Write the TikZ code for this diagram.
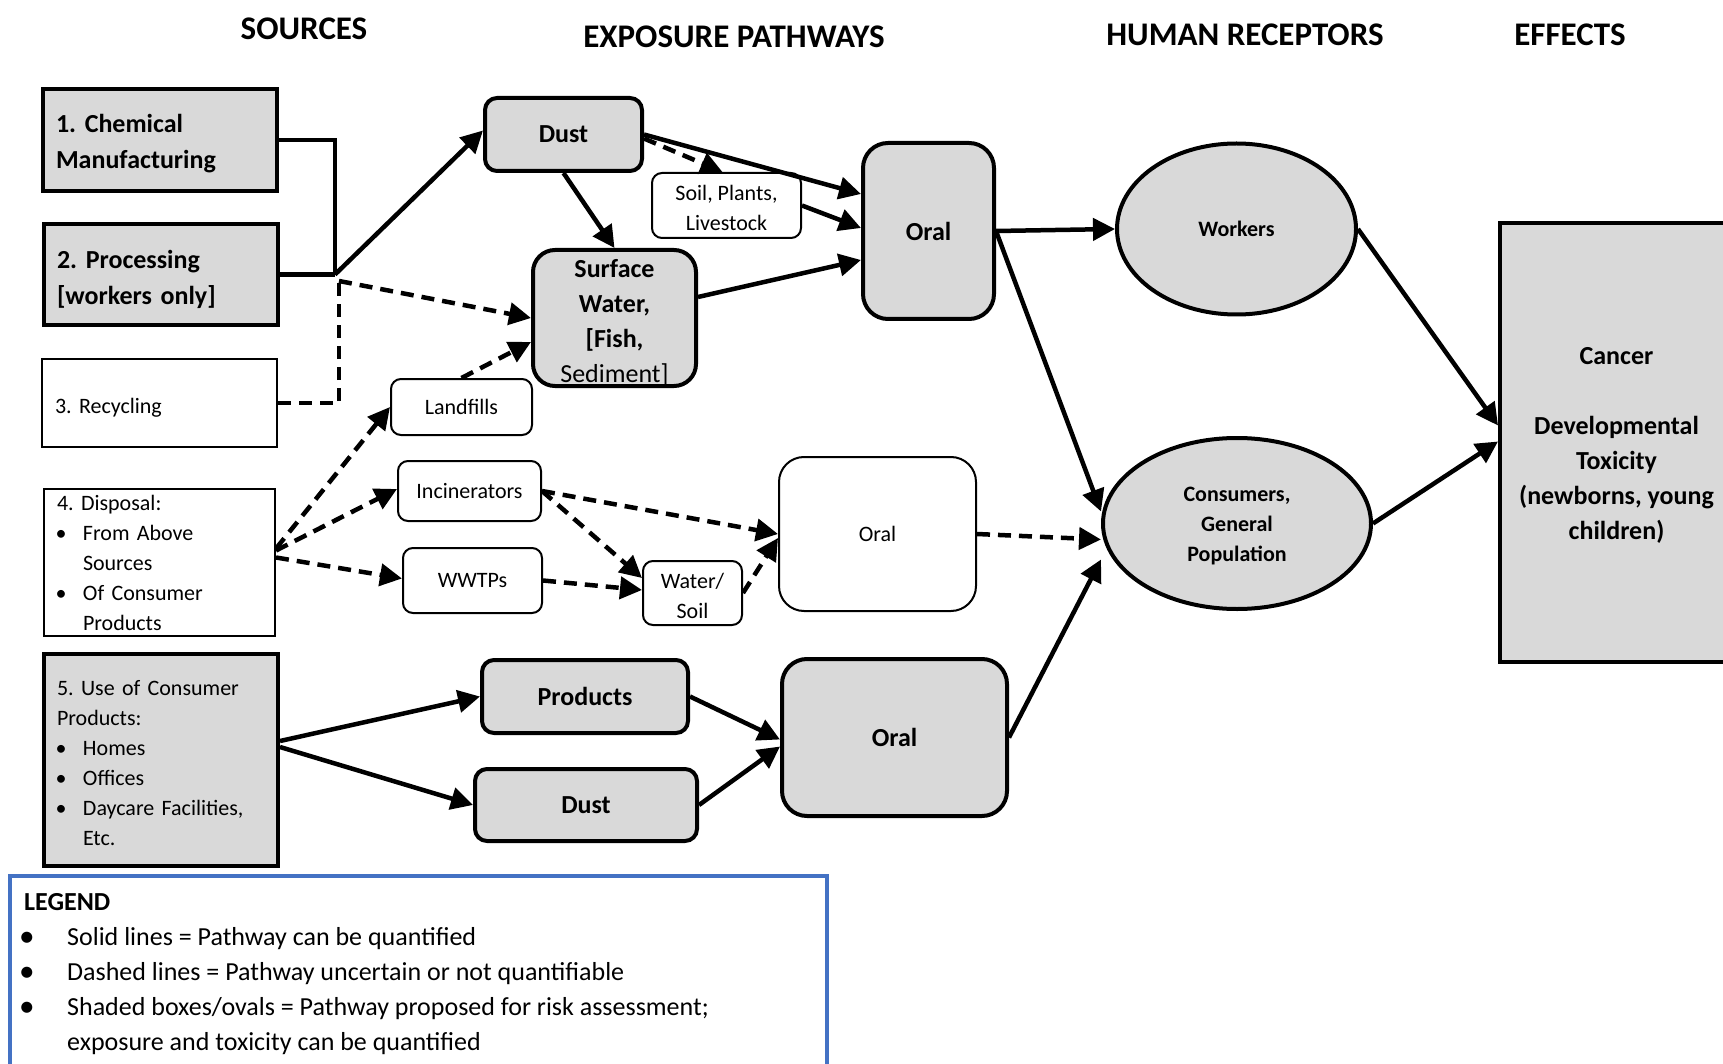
\documentclass[tikz,border=0pt]{standalone}
\usepackage{fontspec}
\setmainfont{Carlito}
\usetikzlibrary{arrows.meta,shapes.geometric}
\definecolor{shade}{HTML}{D9D9D9}
\definecolor{legblue}{HTML}{4472C4}
\newcommand\blt{\makebox[26pt][l]{\hspace{-1.5pt}\textbullet}}
\newcommand\lblt{\makebox[43pt][l]{\hspace{-5pt}\raisebox{-1.5pt}{\scalebox{1.2}{\textbullet}}}}
\frenchspacing
\begin{document}
\frenchspacing
\begin{tikzpicture}[x=1pt,y=-1pt,
 title/.style={font=\fontsize{33}{40}\selectfont\bfseries, inner sep=0},
 srcthick/.style={draw, line width=4pt, fill=shade, inner ysep=0pt, inner xsep=13pt, align=left, font=\fontsize{26}{36}\selectfont\bfseries},
 srcthin/.style={draw, line width=2pt, fill=white, inner ysep=0pt, inner xsep=13pt, align=left, font=\fontsize{22}{30}\selectfont},
 pthick/.style={draw, line width=4pt, fill=shade, rounded corners=#1, inner sep=0pt, align=center, font=\fontsize{26}{35}\selectfont\bfseries},
 pthick/.default=12pt,
 pthin/.style={draw, line width=2pt, fill=white, rounded corners=#1, inner sep=0pt, align=center, font=\fontsize{22}{30}\selectfont},
 pthin/.default=10pt,
 recept/.style={ellipse, draw, line width=4pt, fill=shade, inner sep=0pt, align=center, font=\fontsize{22}{30}\selectfont\bfseries},
 conn/.style={line width=4.5pt, -{Triangle[length=22pt,width=22pt]}},
 dconn/.style={conn, dash pattern=on 13pt off 8pt},
 link/.style={line width=4.5pt},
 dlink/.style={line width=4.5pt, dash pattern=on 13pt off 8pt},
]
\useasboundingbox (0,0) rectangle (1723,1064);
\clip (0,0) rectangle (1723,1064);

% titles
\node[title] (tsrc) at (304,29) {SOURCES};
\node[title] (texp) at (734,37) {EXPOSURE PATHWAYS};
\node[title] (trec) at (1245,35) {HUMAN RECEPTORS};
\node[title] (teff) at (1570,35) {EFFECTS};

% sources
\node[srcthick, text width=208pt, minimum height=102pt] (box1) at (160,140) {\rule{0pt}{26pt}1. Chemical\\Manufacturing};
\node[srcthick, text width=208pt, minimum height=101pt] (box2) at (161,274.5) {\rule{0pt}{29pt}2. Processing\\{[workers only]}};
\node[srcthin, text width=209pt, minimum height=88pt] (box3) at (159.5,403) {\rule{0pt}{25pt}3. Recycling};
\node[srcthin, text width=205pt, minimum height=147pt] (box4) at (159.5,562.5)
 {4. Disposal:\\\blt From Above\\\hspace*{26pt}Sources\\\blt Of Consumer\\\hspace*{26pt}Products};
\node[srcthick, font=\fontsize{22}{30}\selectfont, text width=208pt, minimum height=212pt] (box5) at (161,760)
 {\rule{0pt}{21pt}5. Use of Consumer\\Products:\\\blt Homes\\\blt Offices\\\blt Daycare Facilities,\\\hspace*{26pt}Etc.};

% exposure pathways
\node[pthick, minimum width=157pt, minimum height=73pt] (dustT) at (563.5,134.5) {Dust};
\node[pthin, minimum width=149pt, minimum height=65pt] (soil) at (726.5,205.5) {\rule{0pt}{21pt}Soil, Plants,\\Livestock};
\node[pthick=22pt, minimum width=163pt, minimum height=136pt] (surf) at (614.5,318) {\rule{0pt}{27pt}Surface\\Water,\\{[}Fish,\\{\mdseries Sediment]}};
\node[pthick=25pt, minimum width=131pt, minimum height=176pt] (oralT) at (928.5,231) {Oral};
\node[pthin, minimum width=141pt, minimum height=56pt] (land) at (461.5,407) {Landfills};
\node[pthin, minimum width=143pt, minimum height=60pt] (inc) at (469.5,491) {Incinerators};
\node[pthin, minimum width=139pt, minimum height=65pt] (wwtp) at (472.5,580.5) {WWTPs};
\node[pthin, minimum width=99pt, minimum height=64pt] (ws) at (692.5,593) {\rule{0pt}{21pt}Water/\\Soil};
\node[pthin=25pt, minimum width=197pt, minimum height=154pt] (oralM) at (877.5,534) {Oral};
\node[pthick, minimum width=206pt, minimum height=73pt] (prod) at (585,696.5) {Products};
\node[pthick, minimum width=222pt, minimum height=72pt] (dustB) at (586,805) {Dust};
\node[pthick=25pt, minimum width=225pt, minimum height=157pt] (oralB) at (894.5,737.5) {Oral};

% receptors
\node[recept, minimum width=239pt, minimum height=171pt] (workers) at (1236.5,229) {Workers};
\node[recept, minimum width=268pt, minimum height=171pt] (cons) at (1237,523.5) {\rule{0pt}{20pt}Consumers,\\General\\Population};

% effects
\node[draw, line width=4pt, fill=shade, minimum width=233pt, minimum height=439pt, inner sep=0pt, align=center,
 font=\fontsize{26}{35}\selectfont\bfseries] (effects) at (1616.5,442.5)
 {\rule{0pt}{23.5pt}Cancer\\[35pt]Developmental\\Toxicity\\(newborns, young\\children)};

% legend
\node[draw=legblue, line width=3.5pt, minimum width=817pt, minimum height=300pt, inner sep=0pt] (legend) at (418.5,1026) {};
\node[anchor=north west, inner sep=0pt, align=left, font=\fontsize{26}{35}\selectfont] (legendtext) at (24,893)
 {\textbf{LEGEND}\\
  \lblt Solid lines = Pathway can be quantified\\
  \lblt Dashed lines = Pathway uncertain or not quantifiable\\
  \lblt Shaded boxes/ovals = Pathway proposed for risk assessment;\\
  \hspace*{43pt}exposure and toxicity can be quantified};

% connectors: sources
\coordinate (J) at (335,274.5);
\coordinate (K) at (339,281);
\draw[link] (box1.east) -| (J);
\draw[link] (box2.east) -- (J);
\draw[conn] (J) -- ([yshift=4pt]dustT.west);
\draw[dconn] (K) -- (surf.west);
\draw[dlink] (box3.east) -| (K);

\draw[dconn] ([yshift=14pt]box4.east) -- (land.west);
\draw[dconn] ([yshift=12pt]box4.east) -- ([yshift=2pt]inc.west);
\draw[dconn] ([yshift=5pt]box4.east) -- ([yshift=2pt]wwtp.west);

\draw[conn] ([yshift=19pt]box5.east) -- (prod.west);
\draw[conn] ([yshift=13pt]box5.east) -- (dustB.west);

% connectors: pathways
\draw[conn] (dustT.south) -- (surf.north);
\draw[conn] (dustT.east) -- ([yshift=37pt]oralT.west);
\draw[dconn] ([yshift=-4pt]dustT.east) -- ([xshift=-4pt]soil.north);
\draw[conn] (soil.east) -- ([yshift=3pt]oralT.west);
\draw[conn] ([yshift=21pt]surf.east) -- ([yshift=-29pt]oralT.west);
\draw[dconn] (land.north) -- ([yshift=-24pt]surf.west);

\draw[dconn] (inc.east) -- (oralM.west);
\draw[dconn] (inc.east) -- ([yshift=15pt]ws.west);
\draw[dconn] (wwtp.east) -- ([yshift=3pt]ws.west);
\draw[dconn] (ws.east) -- ([yshift=-4pt]oralM.west);

\draw[conn] (prod.east) -- ([yshift=-2pt]oralB.west);
\draw[conn] (dustB.east) -- ([yshift=-9pt]oralB.west);

% connectors: receptors
\draw[conn] (oralT.east) -- (workers.west);
\draw[conn] (oralT.east) -- ([yshift=12pt]cons.west);
\draw[dconn] (oralM.east) -- ([yshift=-16pt]cons.west);
\draw[conn] (oralB.east) -- ([yshift=-36pt]cons.west);

% connectors: effects
\draw[conn] (workers.east) -- ([yshift=17pt]effects.west);
\draw[conn] (cons.east) -- ([yshift=1pt]effects.west);
\end{tikzpicture}
\end{document}
